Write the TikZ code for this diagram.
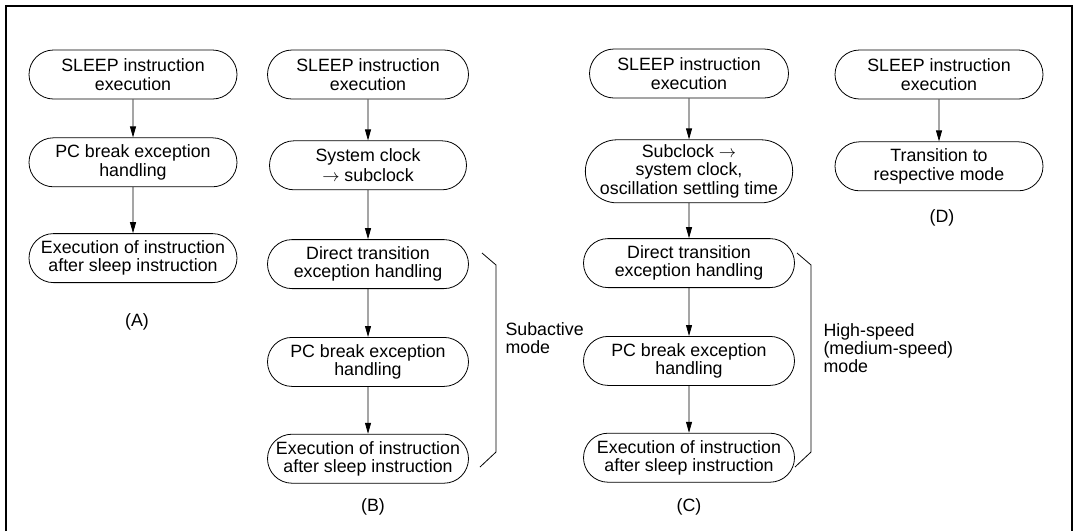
\documentclass[tikz,border=0pt]{standalone}
\usepackage{fontspec}
\setmainfont{Liberation Sans}
\usetikzlibrary{arrows.meta,positioning,shapes.misc}

\begin{document}
\begin{tikzpicture}[
    x=1pt, y=-1pt,
    node distance=40pt,
    stage/.style={draw, rounded rectangle, minimum width=208pt, minimum height=49pt, inner xsep=0pt, inner ysep=2pt, align=center, font=\fontsize{17.8}{18.3}\selectfont, line width=0.8pt},
    arrow/.style={-{Triangle[length=11pt, width=6pt]}, line width=0.8pt},
    caption/.style={font=\fontsize{17.8}{18.3}\selectfont},
    mode/.style={font=\fontsize{17.8}{18.3}\selectfont, align=left, anchor=west},
    bracket/.style={line width=0.8pt},
]
    \useasboundingbox (0,0) rectangle (1075,531);

    % outer frame, open at the bottom
    \draw[line width=2pt] (6,531) -- (6,6) -- (1072,6) -- (1072,531);

    % (A)
    \node[stage] (a1) at (133,74.5) {SLEEP instruction\\execution};
    \node[stage, below=38pt of a1] (a2) {PC break exception\\handling};
    \node[stage, below=46pt of a2] (a3) {Execution of instruction\\after sleep instruction};
    \node[caption] (capA) at (137,322) {(A)};

    \draw[arrow] (a1) -- (a2);
    \draw[arrow] (a2) -- (a3);

    % (B)
    \node[stage, minimum width=201pt] (b1) at (368,74.5) {SLEEP instruction\\execution};
    \node[stage, minimum width=197pt, below=41pt of b1] (b2) {System clock\\[1.5pt]$\rightarrow$ subclock};
    \node[stage, minimum width=201pt, below=49pt of b2] (b3) {Direct transition\\exception handling};
    \node[stage, minimum width=201pt, below=48pt of b3] (b4) {PC break exception\\handling};
    \node[stage, minimum width=201pt, below=47pt of b4] (b5) {Execution of instruction\\after sleep instruction};
    \node[caption] (capB) at (373,507) {(B)};

    \draw[arrow] (b1) -- (b2);
    \draw[arrow] (b2) -- (b3);
    \draw[arrow] (b3) -- (b4);
    \draw[arrow] (b4) -- (b5);

    \draw[bracket] (482,253) -- (496,265) -- (496,452) -- (480,467);
    \node[mode] (subact) at (502,338) {Subactive\\mode};

    % (C)
    \node[stage, minimum width=199pt] (c1) at (689,73.5) {SLEEP instruction\\execution};
    \node[stage, minimum width=199pt, minimum height=63pt, below=41pt of c1] (c2) {Subclock $\rightarrow$\\system clock,\\oscillation settling time};
    \node[stage, minimum width=211pt, below=35pt of c2] (c3) {Direct transition\\exception handling};
    \node[stage, minimum width=211pt, below=48pt of c3] (c4) {PC break exception\\handling};
    \node[stage, minimum width=211pt, below=47pt of c4] (c5) {Execution of instruction\\after sleep instruction};
    \node[caption] (capC) at (689,507) {(C)};

    \draw[arrow] (c1) -- (c2);
    \draw[arrow] (c2) -- (c3);
    \draw[arrow] (c3) -- (c4);
    \draw[arrow] (c4) -- (c5);

    \draw[bracket] (797,253) -- (811,265) -- (811,452) -- (795,467);
    \node[mode] (highsp) at (820,348) {High-speed\\(medium-speed)\\mode};

    % (D)
    \node[stage] (d1) at (939,74.5) {SLEEP instruction\\execution};
    \node[stage, below=42pt of d1] (d2) {Transition to\\respective mode};
    \node[caption] (capD) at (942,218) {(D)};

    \draw[arrow] (d1) -- (d2);

\end{tikzpicture}
\end{document}
